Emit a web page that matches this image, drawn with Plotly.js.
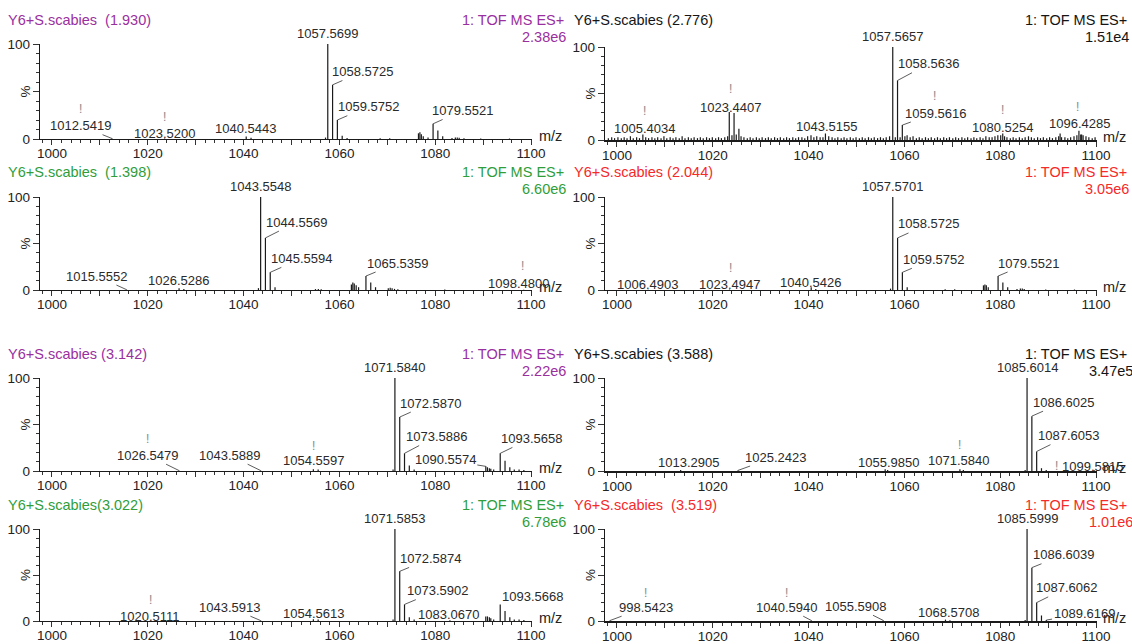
<!DOCTYPE html>
<html><head><meta charset="utf-8">
<script src="https://cdn.plot.ly/plotly-3.0.1.min.js"></script>
<style>html,body{margin:0;padding:0;background:#fff;}#chart{width:1132px;height:644px;}</style>
</head><body><div id="chart"></div>
<script>
// ---------------- DATA ----------------
const titles = ['Y6+S.scabies\u00a0 (1.930)', 'Y6+S.scabies (2.776)', 'Y6+S.scabies\u00a0 (1.398)', 'Y6+S.scabies (2.044)',
                'Y6+S.scabies (3.142)', 'Y6+S.scabies (3.588)', 'Y6+S.scabies(3.022)', 'Y6+S.scabies\u00a0 (3.519)'];
const scanMode = '1: TOF MS ES+';
const intensities = ['2.38e6', '1.51e4', '6.60e6', '3.05e6', '2.22e6', '3.47e5', '6.78e6', '1.01e6'];
const xTickVals = [1000, 1010, 1020, 1030, 1040, 1050, 1060, 1070, 1080, 1090, 1100];
const xTickText = ['1000', '', '1020', '', '1040', '', '1060', '', '1080', '', '1100'];
const yTickVals = [0, 50, 100];
const yTickText = ['0', '', '100'];
const xAxisName = 'm/z';
const yAxisName = '%';

// peaks: [m/z, relative intensity %]
const p1Peaks = [[1012.5419,0.5],[1023.52,0.5],[1040.5443,2.5],[1041.55,1.2],[1057.1,1.5],[1057.5699,100],[1058.5725,57],[1059.5752,20],[1060.58,3.5],[1061.6,1],[1068.5,0.7],[1070.5,0.7],[1076.5,6],[1076.8,7],[1077.1,5],[1077.5,3],[1078.5,1.5],[1079.5521,16],[1080.55,9],[1081.56,3],[1083.5,1],[1084.2,1.5],[1084.6,1.5],[1085.0,1.2],[1086.0,0.8],[1089.5,0.6],[1095.5,0.5]];
const p1Labels = [1012.5419, 1023.52, 1040.5443, 1057.5699, 1058.5725, 1059.5752, 1079.5521];

const p2Peaks = [[1005.4034,6],[1023.4407,30],[1024.44,29],[1025.45,12],[1043.5155,7],[1057.5657,100],[1058.5636,64],[1059.5616,16],[1060.56,5],[1079.5,5],[1080.5254,7],[1092.5,7],[1096.4285,10],[1097.0,6]];
const p2Noise = [[998.2,2],[998.9,3],[999.5,2],[1000.2,3],[1000.9,2],[1001.5,3],[1002.1,2],[1002.8,4],[1003.4,2],[1004.1,3],[1004.7,2],[1006.0,3],[1006.6,2],[1007.3,3],[1007.9,2],[1008.5,3],[1009.2,2],[1009.8,4],[1010.4,2],[1011.1,3],[1011.7,2],[1012.3,3],[1013.0,2],[1013.6,4],[1014.2,2],[1014.9,3],[1015.5,2],[1016.1,3],[1016.8,2],[1017.4,3],[1018.0,2],[1018.7,3],[1019.3,2],[1019.9,3],[1020.6,2],[1021.2,3],[1021.8,2],[1022.5,3],[1023.1,4],[1024.0,5],[1024.9,6],[1025.9,4],[1026.5,3],[1027.2,2],[1027.8,3],[1028.4,2],[1029.1,3],[1029.7,2],[1030.3,3],[1031.0,2],[1031.6,3],[1032.2,2],[1032.9,3],[1033.5,2],[1034.1,3],[1034.8,2],[1035.4,3],[1036.0,2],[1036.7,3],[1037.3,2],[1037.9,3],[1038.6,3],[1039.2,2],[1039.8,4],[1040.5,5],[1041.1,3],[1041.7,4],[1042.4,3],[1043.0,3],[1044.2,4],[1044.9,3],[1045.5,2],[1046.1,3],[1046.8,2],[1047.4,3],[1048.0,2],[1048.7,3],[1049.3,2],[1049.9,3],[1050.6,2],[1051.2,3],[1051.8,2],[1052.5,3],[1053.1,2],[1053.7,3],[1054.4,2],[1055.0,3],[1055.6,2],[1056.2,3],[1056.9,4],[1058.1,3],[1059.1,3],[1060.1,4],[1061.2,3],[1061.8,4],[1062.5,2],[1063.1,3],[1063.7,2],[1064.4,3],[1065.0,2],[1065.6,3],[1066.3,2],[1066.9,3],[1067.5,2],[1068.2,3],[1068.8,2],[1069.4,3],[1070.1,2],[1070.7,3],[1071.3,2],[1072.0,3],[1072.6,2],[1073.2,3],[1073.9,2],[1074.5,3],[1075.1,2],[1075.8,3],[1076.4,2],[1077.0,4],[1077.7,3],[1078.3,3],[1078.9,4],[1080.1,5],[1080.9,4],[1081.4,3],[1082.1,2],[1082.7,3],[1083.3,2],[1084.0,3],[1084.6,2],[1085.2,3],[1085.9,4],[1086.5,3],[1087.1,2],[1087.8,3],[1088.4,2],[1089.0,3],[1089.7,2],[1090.3,3],[1090.9,2],[1091.6,3],[1092.2,4],[1092.8,3],[1093.5,3],[1094.1,2],[1094.7,3],[1095.4,4],[1096.0,5],[1096.8,6],[1097.3,5],[1097.9,4],[1098.5,3],[1099.2,2],[1099.8,3]];
const p2Labels = [1005.4034, 1023.4407, 1043.5155, 1057.5657, 1058.5636, 1059.5616, 1080.5254, 1096.4285];

const p3Peaks = [[1015.5552,0.4],[1026.5286,2],[1027.53,1],[1043.1,2],[1043.5548,100],[1044.5569,56],[1045.5594,19],[1046.56,3],[1055.0,1],[1055.6,1.2],[1056.2,0.8],[1062.5,6],[1062.8,8],[1063.1,7],[1063.5,5],[1064.0,3],[1065.5359,15],[1066.54,8],[1067.54,3],[1070.2,2],[1070.6,2.5],[1071.0,2],[1071.5,1.2],[1072.2,0.8],[1082.0,0.5],[1098.48,0.4]];
const p3Labels = [1015.5552, 1026.5286, 1043.5548, 1044.5569, 1045.5594, 1065.5359, 1098.48];

const p4Peaks = [[1006.4903,0.4],[1023.4947,0.5],[1040.5426,3],[1041.5,1.2],[1057.1,1.5],[1057.5701,100],[1058.5725,56],[1059.5752,19],[1060.58,3],[1068.5,0.7],[1070.5,0.7],[1076.5,5],[1076.8,6],[1077.1,5],[1077.5,3],[1079.5521,15],[1080.55,8],[1081.56,3],[1083.5,1],[1084.2,1.5],[1084.6,1.5],[1085.0,1.2],[1089.5,0.6],[1095.5,0.5]];
const p4Labels = [1006.4903, 1023.4947, 1040.5426, 1057.5701, 1058.5725, 1059.5752, 1079.5521];

const p5Peaks = [[1026.5479,0.4],[1043.5889,0.4],[1054.5597,2],[1055.56,1.5],[1071.2,1.5],[1071.584,100],[1072.587,58],[1073.5886,19],[1074.59,6],[1075.6,1.5],[1090.5574,5],[1090.9,4],[1091.3,3],[1091.6,2.5],[1092.2,1.5],[1093.5658,19],[1094.57,11],[1095.57,4],[1096.5,1.5],[1097.5,1.5],[1098.5,1.2]];
const p5Labels = [1026.5479, 1043.5889, 1054.5597, 1071.584, 1072.587, 1073.5886, 1090.5574, 1093.5658];

const p6Peaks = [[1013.2905,1],[1025.2423,0.6],[1055.985,2],[1056.5,1],[1071.584,2],[1072.3,1],[1085.2,1],[1085.6014,100],[1086.6025,59],[1087.6053,21],[1088.61,3],[1089.6,1],[1099.5815,1]];
const p6Labels = [1013.2905, 1025.2423, 1055.985, 1071.584, 1085.6014, 1086.6025, 1087.6053, 1099.5815];

const p7Peaks = [[1020.5111,0.4],[1043.5913,0.4],[1054.5613,2],[1055.56,1.5],[1071.2,1.5],[1071.5853,100],[1072.5874,54],[1073.5902,18],[1074.59,4],[1075.6,1.5],[1083.067,0.8],[1090.55,5],[1090.9,5],[1091.3,4],[1091.6,3],[1092.2,1.5],[1093.5668,18],[1094.57,11],[1095.57,4],[1096.5,1.5],[1097.5,1.5],[1098.5,1.2]];
const p7Labels = [1020.5111, 1043.5913, 1054.5613, 1071.5853, 1072.5874, 1073.5902, 1083.067, 1093.5668];

const p8Peaks = [[998.5423,0.5],[1040.594,0.5],[1055.5908,0.6],[1068.5708,1.5],[1069.5,0.8],[1085.2,1],[1085.5999,100],[1086.6039,58],[1087.6062,20],[1088.61,6],[1089.6169,1]];
const p8Labels = [998.5423, 1040.594, 1055.5908, 1068.5708, 1085.5999, 1086.6039, 1087.6062, 1089.6169];

// ---------------- LABEL PLACEMENT (style) ----------------
// [label x (m/z), label y (%), mode], mode 0 = free text, 1 = leader line, 2 = on top of the peak
const p1Pos = [[1005.9,14,1],[1023.4,6,0],[1040.4,11,0],[0,0,2],[1064.9,71,1],[1066.0,34,1],[1085.7,30,1]];
const p1Bangs = [[1005.9,32],[1023.4,23]];
const p2Pos = [[1005.7,12,0],[1023.8,35,0],[1043.7,15,0],[0,0,2],[1065.1,82,1],[1066.5,29,1],[1080.5,13,0],[1096.5,18,0]];
const p2Bangs = [[1005.7,31],[1023.8,55],[1066.3,47],[1080.5,32],[1096.2,35]];
const p3Pos = [[1009.3,15,1],[1026.5,10,0],[0,0,2],[1051.1,73,1],[1052.1,34,1],[1072.1,29,1],[1097.3,7,0]];
const p3Bangs = [[1098.3,26]];
const p4Pos = [[1006.4,6,0],[1023.4,6,0],[1040.4,8,0],[0,0,2],[1065.0,71,1],[1066.0,33,1],[1086.0,29,1]];
const p4Bangs = [[1023.6,24]];
const p5Pos = [[1020.0,17,1],[1037.0,17,1],[1054.5,11,0],[0,0,2],[1079.1,73,1],[1080.2,37,1],[1082.1,12,1],[1100.0,35,1]];
const p5Bangs = [[1020.0,34],[1054.5,27]];
const p6Pos = [[1014.9,9,0],[1033.0,15,1],[1056.7,9,0],[1071.2,11,0],[0,0,2],[1093.2,74,1],[1094.3,38,1],[1099.2,5,0]];
const p6Bangs = [[1071.4,28],[1091.7,5]];
const p7Pos = [[1020.5,5,0],[1037.0,15,1],[1054.5,8,0],[0,0,2],[1079.1,68,1],[1080.4,33,1],[1082.8,7,0],[1100.2,27,1]];
const p7Bangs = [[1020.5,23]];
const p8Pos = [[1006.0,15,1],[1035.3,15,1],[1049.7,16,1],[1069.2,9,0],[0,0,2],[1093.3,72,1],[1093.8,36,1],[1097.5,8,1]];
const p8Bangs = [[1006.0,30],[1035.3,30]];

// ---------------- STYLE / GEOMETRY ----------------
const W = 1132, H = 644;
const FONT = 'Arial, "Liberation Sans", sans-serif';
const PURPLE = '#9a2fa0', GREEN = '#2f9e3a', RED = '#f52a2a', BLACK = '#151515';
const colors = [PURPLE, BLACK, GREEN, RED, PURPLE, BLACK, GREEN, RED];
const colX = [[40, 532], [605, 1097]];
const panelRows = [[44, 139], [47, 140], [197, 290], [197, 290], [378, 471], [378, 471], [529, 621], [529, 621]];
const titleY = [20, 172, 354, 505];
const intY = [37, 189, 371, 522];
const fx = p => p / W;
const fy = p => 1 - p / H;

const peakSets = [p1Peaks, p2Peaks, p3Peaks, p4Peaks, p5Peaks, p6Peaks, p7Peaks, p8Peaks];
const labelSets = [p1Labels, p2Labels, p3Labels, p4Labels, p5Labels, p6Labels, p7Labels, p8Labels];
const posSets = [p1Pos, p2Pos, p3Pos, p4Pos, p5Pos, p6Pos, p7Pos, p8Pos];
const bangSets = [p1Bangs, p2Bangs, p3Bangs, p4Bangs, p5Bangs, p6Bangs, p7Bangs, p8Bangs];
const noiseSets = {1: p2Noise};

function sticks(peaks) {
  const xs = [], ys = [];
  peaks.forEach(([m, v]) => { xs.push(m, m, null); ys.push(0, v, null); });
  return {xs, ys};
}

const traces = [];
const annotations = [];
const layout = {
  width: W, height: H, margin: {l: 0, r: 0, t: 0, b: 0},
  paper_bgcolor: '#fff', plot_bgcolor: 'rgba(0,0,0,0)', showlegend: false,
  font: {family: FONT, color: '#222'}
};
const labelFont = {family: FONT, size: 13, color: '#2a2a2a'};

for (let i = 0; i < 8; i++) {
  const k = i === 0 ? '' : String(i + 1);
  const xa = 'x' + k, ya = 'y' + k;
  const col = i % 2, row = Math.floor(i / 2);
  const [xl, xr] = colX[col];
  const [yt, yb] = panelRows[i];

  layout['xaxis' + k] = {
    domain: [fx(xl), fx(xr)], range: [997.5, 1100.2], anchor: ya,
    tickmode: 'array', tickvals: xTickVals, ticktext: xTickText,
    ticks: 'outside', ticklen: 5, tickwidth: 1, tickcolor: '#333', ticklabelstandoff: -3,
    minor: {tickmode: 'linear', tick0: 1000, dtick: 2, ticks: 'outside', ticklen: 3, tickwidth: 1, tickcolor: '#333', showgrid: false},
    showline: true, linecolor: '#1a1a1a', linewidth: (i === 1 ? 2 : (i === 5 || i === 7 ? 1.6 : 1.2)),
    showgrid: false, zeroline: false, fixedrange: true,
    tickfont: {family: FONT, size: 13.5, color: '#222'}
  };
  layout['yaxis' + k] = {
    domain: [fy(yb), fy(yt)], range: [0, 100], anchor: xa,
    tickmode: 'array', tickvals: yTickVals, ticktext: yTickText,
    ticks: 'outside', ticklen: 6, tickwidth: 1, tickcolor: '#333',
    minor: {tickmode: 'linear', tick0: 0, dtick: 10, ticks: 'outside', ticklen: 3, tickwidth: 1, tickcolor: '#333', showgrid: false},
    showline: true, linecolor: '#1a1a1a', linewidth: 1.2,
    showgrid: false, zeroline: false, fixedrange: true,
    tickfont: {family: FONT, size: 13.5, color: '#222'}
  };

  if (noiseSets[i]) {
    const n = sticks(noiseSets[i]);
    traces.push({type: 'scatter', mode: 'lines', x: n.xs, y: n.ys, xaxis: xa, yaxis: ya,
      line: {color: '#1a1a1a', width: 1.2}, hoverinfo: 'skip', connectgaps: false});
  }
  const s = sticks(peakSets[i]);
  traces.push({type: 'scatter', mode: 'lines', x: s.xs, y: s.ys, xaxis: xa, yaxis: ya,
    line: {color: '#1a1a1a', width: 1.2}, hoverinfo: 'skip', connectgaps: false});

  // headers
  const c = colors[i];
  annotations.push({xref: 'paper', yref: 'paper', x: fx(col ? 572 : 6), y: fy(titleY[row]), xanchor: 'left', yanchor: 'middle',
    text: titles[i], showarrow: false, font: {family: FONT, size: 14.5, color: c}});
  annotations.push({xref: 'paper', yref: 'paper', x: fx(col ? 1129 : 566), y: fy(titleY[row]), xanchor: 'right', yanchor: 'middle',
    text: scanMode, showarrow: false, font: {family: FONT, size: 14.5, color: c}});
  annotations.push({xref: 'paper', yref: 'paper', x: fx(col ? (i >= 4 ? 1135 : 1131) : 568), y: fy(intY[row]), xanchor: 'right', yanchor: 'middle',
    text: intensities[i], showarrow: false, font: {family: FONT, size: 14.5, color: c}});
  // axis names
  annotations.push({xref: 'paper', yref: 'paper', x: fx(col ? 1114 : 550), y: fy(yb - 3), xanchor: 'center', yanchor: 'middle',
    text: xAxisName, showarrow: false, font: {family: FONT, size: 14.5, color: '#222'}});
  annotations.push({xref: 'paper', yref: 'paper', x: fx(xl - 15), y: fy((yt + yb) / 2), xanchor: 'center', yanchor: 'middle',
    text: yAxisName, textangle: -90, showarrow: false, font: {family: FONT, size: 13.5, color: '#222'}});

  // peak labels
  const peaks = peakSets[i];
  labelSets[i].forEach((m, j) => {
    const pk = peaks.find(p => p[0] === m);
    const h = pk ? pk[1] : 0;
    const [lx, ly, mode] = posSets[i][j];
    const txt = m.toFixed(4);
    if (mode === 1) {
      annotations.push({xref: xa, yref: ya, x: m, y: h, axref: xa, ayref: ya, ax: lx, ay: ly,
        showarrow: true, arrowhead: 0, arrowwidth: 0.8, arrowcolor: '#333', standoff: 0,
        text: txt, font: labelFont});
    } else if (mode === 2) {
      annotations.push({xref: xa, yref: ya, x: m, y: h, xanchor: 'center', yanchor: 'bottom', yshift: 1,
        showarrow: false, text: txt, font: labelFont});
    } else {
      annotations.push({xref: xa, yref: ya, x: lx, y: ly, showarrow: false,
        text: txt, font: labelFont});
    }
  });
  bangSets[i].forEach(([bx, by]) => {
    annotations.push({xref: xa, yref: ya, x: bx, y: by, showarrow: false, text: '!',
      font: {family: FONT, size: 12, color: '#8a8a8a'}});
  });
}
layout.annotations = annotations;

Plotly.newPlot('chart', traces, layout, {staticPlot: true, displayModeBar: false});
</script>
</body></html>
